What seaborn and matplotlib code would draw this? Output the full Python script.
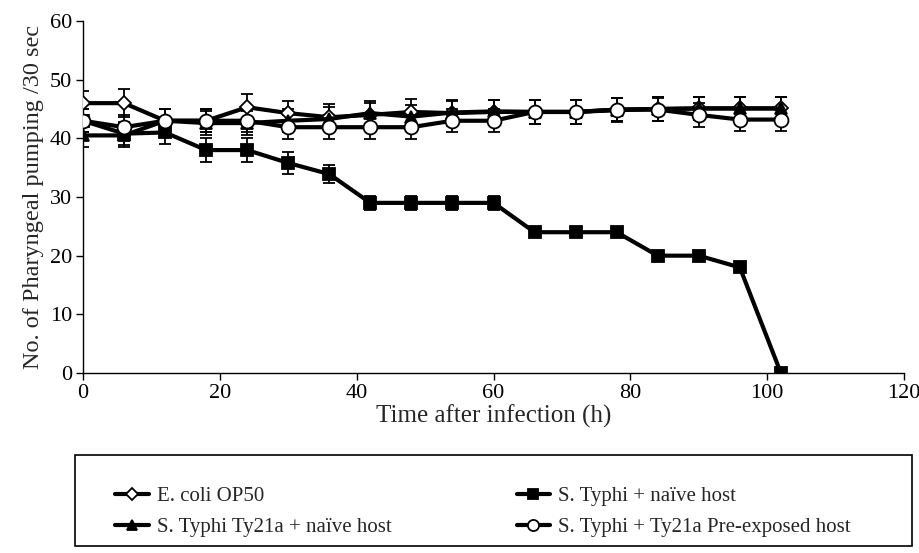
import numpy as np
import pandas as pd
import matplotlib
matplotlib.use("Agg")
import matplotlib.pyplot as plt
import seaborn as sns
from matplotlib.patches import Rectangle

sns.set_style("ticks")
plt.rcParams['font.family'] = ['Liberation Serif', 'DejaVu Serif']

# Data
hours = [0, 6, 12, 18, 24, 30, 36, 42, 48, 54, 60, 66, 72, 78, 84, 90, 96, 102]

ecoli = [46, 46, 43, 43, 45.3, 44.3, 43.6, 44, 44.5, 44.3, 44.5, 44.5, 44.5, 44.8, 45, 45.1, 45.1, 45.1]
ecoli_err = [2, 2.4, 2, 2, 2.2, 2, 2.2, 2, 2.2, 2.2, 2, 2, 2, 2, 2, 2, 2, 2]

typhi_naive = [43, 40.8, 41, 38, 38, 35.8, 33.9, 29, 29, 29, 29, 24, 24, 24, 20, 20, 18, 0]
typhi_naive_err = [2, 2, 2, 2, 2, 1.8, 1.5, 1.2, 1.2, 1.2, 1.2, 0.6, 0.6, 0.6, 0.5, 0.5, 0.3, 0]

ty21a_naive = [40.5, 40.5, 43, 42.6, 42.6, 43, 43.3, 44.3, 43.7, 44.4, 44.6, 44.5, 44.5, 44.9, 45, 45.1, 45.1, 45.1]
ty21a_naive_err = [2, 2, 2, 2, 2, 2, 2, 2, 2, 2, 2, 2, 2, 2, 2, 2, 2, 2]

typhi_preexp = [43, 41.9, 43, 43, 43, 41.9, 41.9, 41.9, 41.9, 43, 43, 44.5, 44.5, 44.9, 44.9, 44, 43.2, 43.2]
typhi_preexp_err = [2, 2, 2, 2, 2, 2, 2, 2, 2, 2, 2, 2, 2, 2, 2, 2, 2, 2]

labels = ["E. coli OP50", "S. Typhi + naïve host",
          "S. Typhi Ty21a + naïve host", "S. Typhi + Ty21a Pre-exposed host"]

series = [
    (labels[0], ecoli, ecoli_err, dict(marker='D', markerfacecolor='white', markersize=7.5)),
    (labels[1], typhi_naive, typhi_naive_err, dict(marker='s', markerfacecolor='black', markersize=8.5)),
    (labels[2], ty21a_naive, ty21a_naive_err, dict(marker='^', markerfacecolor='black', markersize=9)),
    (labels[3], typhi_preexp, typhi_preexp_err, dict(marker='o', markerfacecolor='white', markersize=10)),
]

fig = plt.figure(figsize=(9.19, 5.53), dpi=100)
ax = fig.add_axes([0.0903, 0.3255, 0.8934, 0.6365])

for name, vals, errs, style in series:
    df = pd.DataFrame({"hours": hours, "value": vals})
    ax.errorbar(df["hours"], df["value"], yerr=errs, fmt='none', ecolor='black',
                elinewidth=1.3, capsize=4, capthick=1.3, zorder=2)
    sns.lineplot(data=df, x="hours", y="value", ax=ax, color='black', linewidth=3,
                 markeredgecolor='black', markeredgewidth=1.3, label=name, zorder=3,
                 **style)

ax.set_xlim(0, 120)
ax.set_ylim(0, 60)
ax.set_xticks(range(0, 121, 20))
ax.set_yticks(range(0, 61, 10))
ax.tick_params(labelsize=16, direction='out', length=5, width=1, colors='black', pad=3)
ax.set_xlabel("Time after infection (h)", fontsize=18, labelpad=1)
ax.set_ylabel("No. of Pharyngeal pumping /30 sec", fontsize=17.5, labelpad=4)
for s in ['top', 'right']:
    ax.spines[s].set_visible(False)
for s in ['left', 'bottom']:
    ax.spines[s].set_color('black')
    ax.spines[s].set_linewidth(1)

# legend below the plot, two columns in a framed box
h, l = ax.get_legend_handles_labels()
ax.get_legend().remove()
order = [0, 2, 1, 3]
leg = fig.legend([h[i] for i in order], [l[i] for i in order], ncol=2,
                 loc='center left', bbox_to_anchor=(0.105, 0.074), frameon=False,
                 fontsize=15, handlelength=1.6, handletextpad=0.4,
                 columnspacing=6.0, labelspacing=0.55, markerscale=0.8)
fig.patches.append(Rectangle((0.082, 0.0127), 0.91, 0.164, transform=fig.transFigure,
                             fill=False, edgecolor='black', linewidth=1.2))

fig.savefig("out.png", dpi=100)
